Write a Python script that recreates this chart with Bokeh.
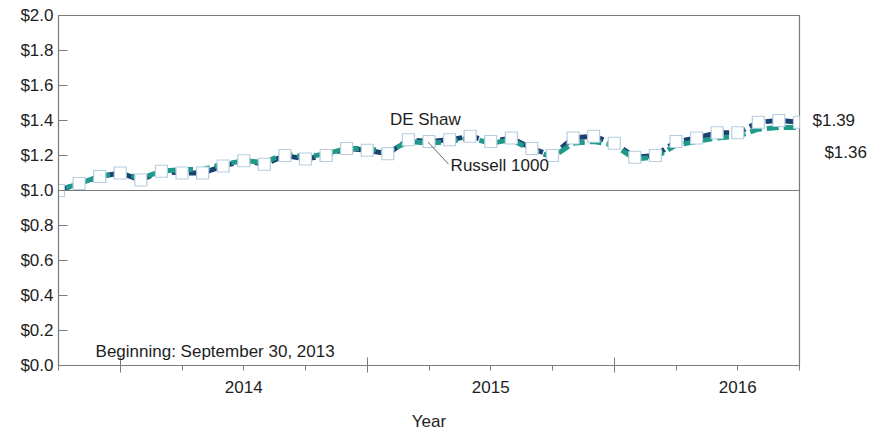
from bokeh.plotting import figure
from bokeh.models import Range1d, FixedTicker, Span, Label, ColumnDataSource, LinearAxis
from bokeh.embed import file_html
from bokeh.resources import INLINE

# Monthly index: 0 = Sep 30, 2013 ... 36 = Sep 30, 2016
months = list(range(37))
de_shaw = [1.00, 1.04, 1.08, 1.10, 1.06, 1.11, 1.10, 1.10, 1.14, 1.17, 1.15, 1.20,
           1.18, 1.20, 1.24, 1.23, 1.21, 1.29, 1.28, 1.29, 1.31, 1.28, 1.30, 1.24,
           1.20, 1.30, 1.31, 1.27, 1.19, 1.20, 1.28, 1.30, 1.33, 1.33, 1.39, 1.40, 1.39]
russell = [1.00, 1.04, 1.08, 1.10, 1.07, 1.11, 1.12, 1.12, 1.15, 1.17, 1.16, 1.21,
           1.19, 1.21, 1.24, 1.24, 1.22, 1.28, 1.27, 1.28, 1.30, 1.27, 1.29, 1.23,
           1.19, 1.27, 1.28, 1.26, 1.18, 1.19, 1.26, 1.28, 1.30, 1.31, 1.35, 1.36, 1.36]
y_ticks = [0.0, 0.2, 0.4, 0.6, 0.8, 1.0, 1.2, 1.4, 1.6, 1.8, 2.0]
quarter_ticks = list(range(0, 37, 3))
year_bounds = [3, 15, 27]
year_pos = [9, 21, 33]
year_labels = ["2014", "2015", "2016"]
end_labels = ["$1.39", "\u2002\u2009$1.36"]
end_label_pos = [1.40, 1.22]

FONT = "Liberation Sans"
FS = "17px"
GRAY = "#7a7a7a"
TXT = "#1e1e1e"

p = figure(width=888, height=433, output_backend="svg", toolbar_location=None,
           x_range=Range1d(0, 36), y_range=Range1d(0, 2),
           min_border_left=58, min_border_right=89, min_border_top=15, min_border_bottom=67)
p.xgrid.visible = False
p.ygrid.visible = False
p.outline_line_color = GRAY
p.outline_line_width = 1.2
p.background_fill_color = "white"
p.border_fill_color = "white"

# Y axis
p.yaxis.ticker = FixedTicker(ticks=y_ticks)
p.yaxis.major_label_overrides = {t: "$%.1f" % t for t in y_ticks}
p.yaxis.major_label_text_font = FONT
p.yaxis.major_label_text_font_size = FS
p.yaxis.major_label_text_color = TXT
p.yaxis.major_tick_in = 9
p.yaxis.major_tick_out = 0
p.yaxis.minor_tick_line_color = None
p.yaxis.axis_line_color = GRAY
p.yaxis.major_tick_line_color = GRAY
p.yaxis.major_label_standoff = 5

# Right-side end value labels
ry = LinearAxis(ticker=FixedTicker(ticks=end_label_pos),
                major_label_overrides=dict(zip(end_label_pos, end_labels)),
                axis_line_color=None, major_tick_line_color=None,
                minor_tick_line_color=None, major_tick_in=0, major_tick_out=0,
                major_label_standoff=13, major_label_text_font=FONT,
                major_label_text_font_size=FS, major_label_text_color=TXT)
p.add_layout(ry, "right")

# X axis (ticks)
p.xaxis.ticker = FixedTicker(ticks=year_bounds, minor_ticks=quarter_ticks)
p.xaxis.major_label_overrides = {t: "" for t in year_bounds}
p.xaxis.major_label_text_font_size = "1px"
p.xaxis.major_label_standoff = 0
p.xaxis.major_tick_in = 8
p.xaxis.major_tick_out = 7
p.xaxis.minor_tick_in = 0
p.xaxis.minor_tick_out = 5
p.xaxis.axis_line_color = GRAY
p.xaxis.major_tick_line_color = GRAY
p.xaxis.minor_tick_line_color = GRAY

# X axis (year labels + title)
xa2 = LinearAxis(ticker=FixedTicker(ticks=year_pos),
                 major_label_overrides=dict(zip(year_pos, year_labels)),
                 axis_line_color=None, major_tick_line_color=None,
                 minor_tick_line_color=None, major_tick_in=0, major_tick_out=0,
                 major_label_standoff=8, major_label_text_font=FONT,
                 major_label_text_font_size=FS, major_label_text_color=TXT,
                 axis_label="Year", axis_label_text_font=FONT,
                 axis_label_text_font_size=FS, axis_label_text_font_style="normal",
                 axis_label_text_color=TXT, axis_label_standoff=16)
p.add_layout(xa2, "below")

p.add_layout(Span(location=1.0, dimension="width", line_color=GRAY, line_width=1.2))

src = ColumnDataSource(dict(x=months, de=de_shaw, ru=russell))
p.line("x", "de", source=src, line_color="#1b3f6e", line_width=5, line_dash="12 5")
p.line("x", "ru", source=src, line_color="#1f9a8a", line_width=5, line_dash="12 5",
       line_dash_offset=9)
p.scatter("x", "de", source=src, marker="square", size=12, fill_color="white",
          line_color="#b5cde0", line_width=1.2)

# Series labels
p.add_layout(Label(x=16.1, y=de_shaw[17] + 0.115, text="DE Shaw", text_font=FONT,
                   text_font_size=FS, text_color=TXT, text_baseline="middle"))
p.add_layout(Label(x=19.05, y=russell[18] - 0.125, text="Russell 1000", text_font=FONT,
                   text_font_size=FS, text_color=TXT, text_baseline="middle"))
p.segment(x0=[17.96], y0=[1.276], x1=[18.95], y1=[1.15], line_color="#444444",
          line_width=0.8)

p.add_layout(Label(x=1.8, y=0.08, text="Beginning: September 30, 2013", text_font=FONT,
                   text_font_size=FS, text_color=TXT, text_baseline="middle"))

open("out.html", "w").write(file_html(p, INLINE))
